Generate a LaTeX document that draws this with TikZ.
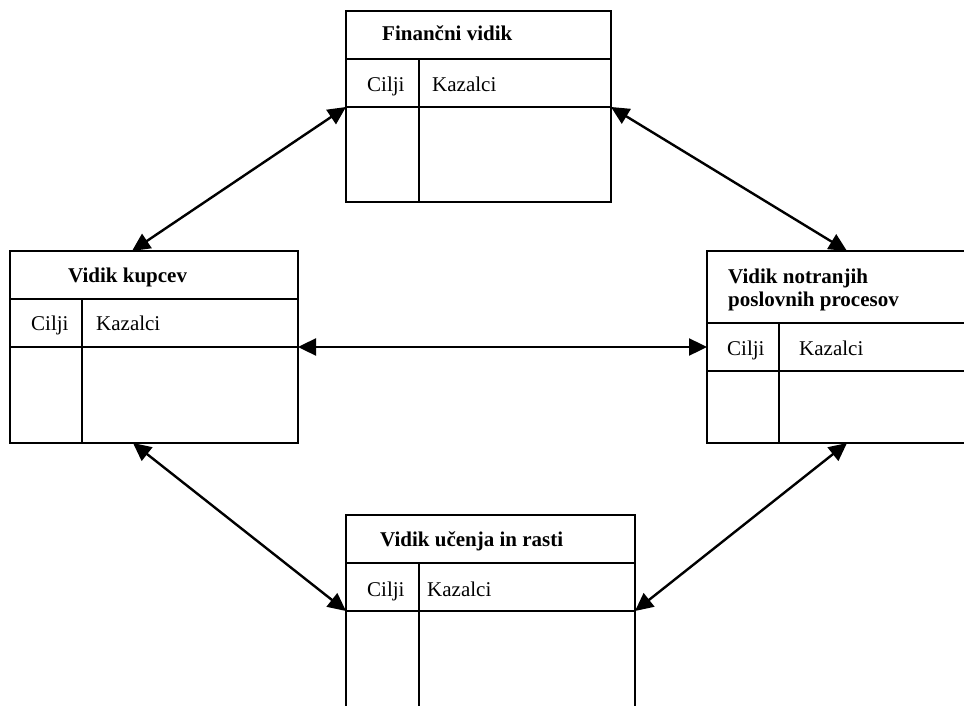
\documentclass[tikz,border=0pt]{standalone}
\usepackage{fontspec}
\setmainfont{Liberation Serif}
\usetikzlibrary{arrows.meta}
\tikzset{
  frame/.style={line width=1.8pt},
  boxnode/.style={draw, frame, anchor=north west, inner sep=0pt, outer sep=0pt},
  ttl/.style={anchor=base west, inner sep=0pt, font=\fontsize{21}{23}\selectfont\bfseries},
  lbl/.style={anchor=base west, inner sep=0pt, font=\fontsize{21}{23}\selectfont},
  link/.style={line width=2.4pt, {Triangle[length=18pt,width=17pt]}-{Triangle[length=18pt,width=17pt]}}
}
\begin{document}
\begin{tikzpicture}[x=1pt,y=-1pt]
\clip (0,0) rectangle (964,706);
\fill[white] (0,0) rectangle (964,706);

% Top box: Financni vidik
\node[boxnode, minimum width=265pt, minimum height=191pt] (fin) at (346,11) {};
\draw[frame] (346,59) -- (611,59);
\draw[frame] (346,107) -- (611,107);
\draw[frame] (419,59) -- (419,202);
\node[ttl] (finT) at (382,41) {Finančni vidik};
\node[lbl] (finC) at (367,92) {Cilji};
\node[lbl] (finK) at (432,92) {Kazalci};

% Left box: Vidik kupcev
\node[boxnode, minimum width=288pt, minimum height=192pt] (kup) at (10,251) {};
\draw[frame] (10,299) -- (298,299);
\draw[frame] (10,347) -- (298,347);
\draw[frame] (82,299) -- (82,443);
\node[ttl] (kupT) at (68,282) {Vidik kupcev};
\node[lbl] (kupC) at (31,330) {Cilji};
\node[lbl] (kupK) at (96,330) {Kazalci};

% Right box: Vidik notranjih poslovnih procesov
\node[boxnode, minimum width=280pt, minimum height=192pt] (pro) at (707,251) {};
\draw[frame] (707,323) -- (990,323);
\draw[frame] (707,371) -- (990,371);
\draw[frame] (779,323) -- (779,443);
\node[ttl] (proT1) at (728,283) {Vidik notranjih};
\node[ttl] (proT2) at (728,306) {poslovnih procesov};
\node[lbl] (proC) at (727,355) {Cilji};
\node[lbl] (proK) at (799,355) {Kazalci};

% Bottom box: Vidik ucenja in rasti
\node[boxnode, minimum width=289pt, minimum height=215pt] (uc) at (346,515) {};
\draw[frame] (346,563) -- (635,563);
\draw[frame] (346,611) -- (635,611);
\draw[frame] (419,563) -- (419,730);
\node[ttl] (ucT) at (380,546) {Vidik učenja in rasti};
\node[lbl] (ucC) at (367,596) {Cilji};
\node[lbl] (ucK) at (427,596) {Kazalci};

% connector end points
\coordinate (finL) at (346,107);
\coordinate (finR) at (611,107);
\coordinate (kupTop) at (132,251);
\coordinate (kupR) at (298,347);
\coordinate (kupB) at (133,443);
\coordinate (proTop) at (847,251);
\coordinate (proL) at (707,347);
\coordinate (proB) at (847,443);
\coordinate (ucL) at (346,611);
\coordinate (ucR) at (635,611);

\draw[link] (finL) -- (kupTop);
\draw[link] (finR) -- (proTop);
\draw[link] (kupR) -- (proL);
\draw[link] (kupB) -- (ucL);
\draw[link] (proB) -- (ucR);
\end{tikzpicture}
\end{document}
